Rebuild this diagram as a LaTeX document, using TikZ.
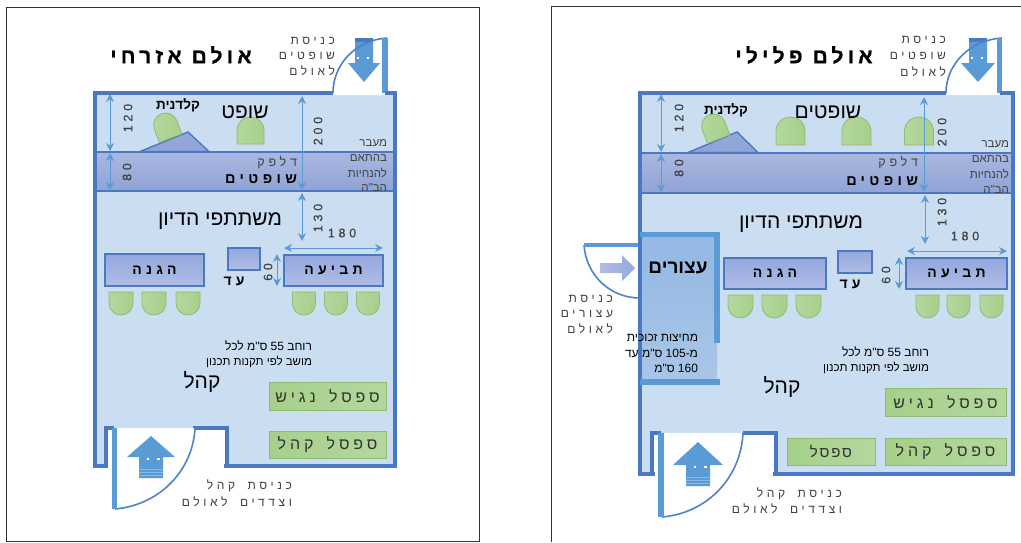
\documentclass[tikz,border=0pt]{standalone}
\usepackage{fontspec}
\usetikzlibrary{arrows.meta}
\TeXXeTstate=1
\newfontfamily\hefont[Script=Hebrew]{Liberation Sans}
\newfontfamily\hesp[Script=Hebrew,LetterSpace=30,WordSpace=1.8]{Liberation Sans}
\newfontfamily\hebench[Script=Hebrew,LetterSpace=24,WordSpace=1.6]{Liberation Sans}
\newfontfamily\hetight[Script=Hebrew,LetterSpace=12]{Liberation Sans}
\newfontfamily\hetitle[Script=Hebrew,LetterSpace=20,UprightFont={* Bold},FakeBold=0.7]{Liberation Sans}
\newfontfamily\hedim[Script=Hebrew,LetterSpace=30,FakeBold=0.25]{Liberation Sans}
\newcommand\HE[1]{\beginR#1\endR}
\newcommand\NUM[1]{\beginL#1\endL{}}
\definecolor{wall}{HTML}{4A78C2}
\definecolor{hallfill}{HTML}{CBDEF1}
\definecolor{door}{HTML}{5B9BD5}
\definecolor{bandtop}{HTML}{AAB8DF}
\definecolor{bandbot}{HTML}{8FA3D6}
\definecolor{boxtop}{HTML}{94A8DD}
\definecolor{boxbot}{HTML}{B0BDE6}
\definecolor{grntop}{HTML}{B4D79E}
\definecolor{grnbot}{HTML}{A6D08A}
\definecolor{grnline}{HTML}{8DBB70}
\definecolor{txtgray}{HTML}{404040}
\definecolor{standtop}{HTML}{94B8E2}
\definecolor{standbot}{HTML}{A8C6E8}
\tikzset{
  every node/.style={inner sep=0pt,outer sep=0pt},
  wallline/.style={draw=wall,line width=3.4pt,miter limit=10},
  bar/.style={fill=door,draw=none},
  arcline/.style={draw=wall!70!door,line width=1.6pt},
  dimline/.style={draw=door,line width=0.9pt,{Stealth[length=8pt,width=8pt]}-{Stealth[length=8pt,width=8pt]}},
  seat/.style={left color=grntop,right color=grnbot,draw=grnline,line width=0.8pt},
  deskbox/.style={top color=boxtop,bottom color=boxbot,draw=wall,line width=1.8pt},
  bench/.style={left color=grnbot,right color=grntop,draw=grnline,line width=0.8pt},
  blockarrow/.style={fill=door,draw=none},
  spaced/.style={font={\hesp\fontsize{#1}{#1}\selectfont},text=txtgray},
  benchlabel/.style={font={\hebench\fontsize{#1}{#1}\selectfont},text=txtgray!80!black},
  spacedbold/.style={font={\hesp\bfseries\fontsize{#1}{#1}\selectfont},text=black},
  titlelabel/.style={font={\hetitle\fontsize{#1}{#1}\selectfont},text=black},
  plain/.style={font={\hefont\fontsize{#1}{#1}\selectfont},text=black},
  plainbold/.style={font={\hefont\bfseries\fontsize{#1}{#1}\selectfont},text=black},
  dimlabel/.style={font={\hedim\fontsize{12.5}{12.5}\selectfont},text=txtgray},
}
% seat with a flat top and a round bottom: centre x, top y, width, height
\newcommand\seatdown[4]{%
  \path[seat] ({#1-#3/2},#2) -- ({#1+#3/2},#2) -- ({#1+#3/2},{#2+#4-#3/2})
   .. controls ({#1+#3/2},{#2+#4-0.22*#3}) and ({#1+0.28*#3},{#2+#4}) .. (#1,{#2+#4})
   .. controls ({#1-0.28*#3},{#2+#4}) and ({#1-#3/2},{#2+#4-0.22*#3}) .. ({#1-#3/2},{#2+#4-#3/2}) -- cycle;}
% seat with a flat bottom and a round top: centre x, bottom y, width, height
\newcommand\seatup[4]{%
  \path[seat] ({#1-#3/2},#2) -- ({#1+#3/2},#2) -- ({#1+#3/2},{#2-#4+#3/2})
   .. controls ({#1+#3/2},{#2-#4+0.22*#3}) and ({#1+0.28*#3},{#2-#4}) .. (#1,{#2-#4})
   .. controls ({#1-0.28*#3},{#2-#4}) and ({#1-#3/2},{#2-#4+0.22*#3}) .. ({#1-#3/2},{#2-#4+#3/2}) -- cycle;}
% dimension arrow between two named coordinates
\newcommand\dimarrow[3]{%
  \coordinate (#1a) at (#2); \coordinate (#1b) at (#3);
  \draw[dimline] (#1a) -- (#1b);}
% block arrow pointing down: centre x, top y, tip y, head start y, half shaft, half head
\newcommand\arrowdown[6]{%
  \path[blockarrow] ({#1-#5},#2) -- ({#1+#5},#2) -- ({#1+#5},#4) -- ({#1+#6},#4) -- (#1,#3) -- ({#1-#6},#4) -- ({#1-#5},#4) -- cycle;
  \path[fill=wall] ({#1-#5},#2) rectangle ({#1+#5},{#2+4});
  \path[fill=white] ({#1-7},{#4-6}) rectangle ({#1-5},{#4-4});
  \path[fill=white] ({#1+3},{#4-6}) rectangle ({#1+5},{#4-4});}
% block arrow pointing up: centre x, bottom y, tip y, head start y, half shaft, half head
\newcommand\arrowup[6]{%
  \path[blockarrow] ({#1-#5},#2) -- ({#1+#5},#2) -- ({#1+#5},#4) -- ({#1+#6},#4) -- (#1,#3) -- ({#1-#6},#4) -- ({#1-#5},#4) -- cycle;
  \foreach \k in {3,6,9}{\draw[white!30!door,line width=0.5pt] ({#1-#5},{#2-\k}) -- ({#1+#5},{#2-\k});}
  \path[fill=white] ({#1-4},{#4+1}) rectangle ({#1-2},{#4+3});
  \path[fill=white] ({#1+6},{#4+1}) rectangle ({#1+9},{#4+3});}
\begin{document}
\begin{tikzpicture}[x=1pt,y=-1pt]
\useasboundingbox (0,0) rectangle (1021,542);
% ---------------- frames
\draw[line width=1pt,draw=black!80] (6,7) rectangle (479,541);
\draw[line width=1pt,draw=black!80] (1021,6) -- (551,6) -- (551,542);

% ================= LEFT HALL
\path[fill=hallfill] (95,93) -- (395,93) -- (395,466) -- (227,466) -- (227,428) -- (106,428) -- (106,466) -- (95,466) -- cycle;
\path[top color=bandtop,bottom color=bandbot] (95,152) rectangle (395,191);
\draw[wall,line width=1.8pt] (95,152) -- (395,152);
\draw[wall,line width=2pt] (95,191) -- (395,191);
% door judges
\path[fill=white] (333,91) .. controls (333,64) and (356,40) .. (385,38) -- (385,95) -- (333,95) -- cycle;
\arrowdown{364}{38}{82}{63}{9}{16}
\draw[arcline] (333,93) .. controls (333,64) and (356,40) .. (387,38);
\path[bar] (382,38) rectangle (388,93);
% walls
\draw[wallline] (333,93) -- (95,93) -- (95,466) -- (108,466);
\draw[wallline] (106,466) -- (106,428) -- (114,428);
\draw[wallline] (193,428) -- (227,428) -- (227,466);
\draw[wallline] (224,466) -- (395,466) -- (395,93) -- (385,93);
% door public
\path[fill=white] (114,428) -- (195,428) .. controls (195,470) and (160,505) .. (115,509) -- cycle;
\draw[arcline] (195,428) .. controls (193,470) and (160,505) .. (115,509);
\path[bar] (112,428) rectangle (117,509);
\arrowup{151}{478}{436}{457}{12}{24}
% stenographer and seats
\path[top color=boxtop,bottom color=bandbot,draw=wall,line width=1.4pt] (140,151.5) -- (188,132) -- (209,151.5) -- cycle;
\begin{scope}[shift={(166,126)},rotate=21]
  \seatup{0}{13}{24}{26}
\end{scope}
\seatup{250.5}{144}{27}{27}
\foreach \x in {121,154,188}{\seatdown{\x}{292}{24}{23}}
\foreach \x in {304,336,368}{\seatdown{\x}{292}{23}{23}}
% dimension arrows
\dimarrow{la}{110,94}{110,151}
\dimarrow{lb}{110,153}{110,190}
\dimarrow{lc}{302,96}{302,190}
\dimarrow{ld}{302,193}{302,241}
\dimarrow{le}{284,248}{383,248}
\dimarrow{lf}{277,254}{277,286}
% boxes
\node[deskbox,minimum width=99pt,minimum height=31pt,anchor=north west,spacedbold=14] (lTv) at (284,255) {\HE{תביעה}};
\node[deskbox,minimum width=99pt,minimum height=32pt,anchor=north west,spacedbold=14] (lHg) at (105,254) {\HE{הגנה}};
\node[deskbox,minimum width=32pt,minimum height=22pt,anchor=north west] (lEd) at (228,248) {};
\node[spacedbold=14] (lEdT) at (234,281) {\HE{עד}};
\node[bench,minimum width=117pt,minimum height=28pt,anchor=north west,benchlabel=16] (lB1) at (269,382) {\HE{ספסל נגיש}};
\node[bench,minimum width=117pt,minimum height=27pt,anchor=north west,benchlabel=16] (lB2) at (269,431) {\HE{ספסל קהל}};
% labels
\node[titlelabel=21] (lTitle) at (181,55) {\HE{אולם אזרחי}};
\node[spaced=12,anchor=east] (lD1) at (335,41) {\HE{כניסת}};
\node[spaced=12,anchor=east] (lD2) at (335,56) {\HE{שופטים}};
\node[spaced=12,anchor=east] (lD3) at (335,71) {\HE{לאולם}};
\node[plainbold=13.5] (lSt) at (178,105) {\HE{קלדנית}};
\node[plain=21] (lJd) at (245,112) {\HE{שופט}};
\node[dimlabel,rotate=90] (lN120) at (128,118) {120};
\node[dimlabel,rotate=90] (lN200) at (318,131) {200};
\node[dimlabel,rotate=90] (lN80) at (127,172) {80};
\node[dimlabel,rotate=90] (lN130) at (318,218) {130};
\node[dimlabel] (lN180) at (342,233) {180};
\node[dimlabel,rotate=90] (lN60) at (268,272) {60};
\node[spaced=12.5,anchor=east] (lCt) at (297,163) {\HE{דלפק}};
\node[spacedbold=14.5,anchor=east] (lCj) at (297,179) {\HE{שופטים}};
\node[plain=11.5,anchor=east,text=txtgray] (lP1) at (387,143) {\HE{מעבר}};
\node[plain=11.5,anchor=east,text=txtgray] (lP2) at (387,158) {\HE{בהתאם}};
\node[plain=11.5,anchor=east,text=txtgray] (lP3) at (387,173) {\HE{להנחיות}};
\node[plain=11.5,anchor=east,text=txtgray] (lP4) at (387,188) {\HE{הב"ה}};
\node[plain=21] (lPart) at (220,221) {\HE{משתתפי הדיון}};
\node[plain=12,anchor=east] (lW1) at (312,346) {\HE{רוחב \NUM{55} ס"מ לכל}};
\node[plain=11.5,anchor=east] (lW2) at (312,362) {\HE{מושב לפי תקנות תכנון}};
\node[plain=21] (lPub) at (202,382) {\HE{קהל}};
\node[spaced=12,anchor=east] (lE1) at (292,486) {\HE{כניסת קהל}};
\node[spaced=12,anchor=east] (lE2) at (292,502) {\HE{וצדדים לאולם}};

% ================= RIGHT HALL
\path[fill=hallfill] (640,93) -- (1013,93) -- (1013,474) -- (776,474) -- (776,433) -- (652,433) -- (652,474) -- (640,474) -- cycle;
\path[top color=bandtop,bottom color=bandbot] (640,153) rectangle (1013,193);
\draw[wall,line width=1.8pt] (640,153) -- (1013,153);
\draw[wall,line width=2pt] (640,193) -- (1013,193);
% door judges
\path[fill=white] (946,91) .. controls (946,64) and (970,40) .. (1000,38) -- (1000,95) -- (946,95) -- cycle;
\arrowdown{978}{38}{82}{63}{9}{17}
\draw[arcline] (946,93) .. controls (946,64) and (970,40) .. (1002,38);
\path[bar] (997,38) rectangle (1002,93);
% witness door
\path[fill=white] (584,245) -- (640,245) -- (640,298) .. controls (610,298) and (586,275) .. (584,245) -- cycle;
\draw[arcline] (640,298) .. controls (610,298) and (586,275) .. (584,245);
\path[bar] (584,243) rectangle (640,247);
\path[left color=boxbot,right color=boxtop] (600,263) -- (622,263) -- (622,255) -- (635,268) -- (622,281) -- (622,273) -- (600,273) -- cycle;
% witness stand
\path[top color=standtop,bottom color=standbot] (641,233) rectangle (717,383);
% walls
\draw[wallline] (946,93) -- (640,93) -- (640,474) -- (655,474);
\draw[wallline] (652,474) -- (652,433) -- (661,433);
\draw[wallline] (743,433) -- (776,433) -- (776,474);
\draw[wallline] (773,474) -- (1013,474) -- (1013,93) -- (1000,93);
\path[bar] (640,232) rectangle (720,237);
\path[bar] (714,237) rectangle (720,343);
\path[bar] (640,379) rectangle (720,385);
% door public
\path[fill=white] (661,433) -- (743,433) .. controls (741,477) and (708,513) .. (662,517) -- cycle;
\draw[arcline] (743,433) .. controls (741,477) and (708,513) .. (662,517);
\path[bar] (658,433) rectangle (664,517);
\arrowup{698}{486}{442}{465}{12}{25}
% stenographer and seats
\path[top color=boxtop,bottom color=bandbot,draw=wall,line width=1.4pt] (688,152.5) -- (737,132) -- (758,152.5) -- cycle;
\begin{scope}[shift={(714,127)},rotate=21]
  \seatup{0}{13}{24}{26}
\end{scope}
\foreach \x in {790.5,856.5,919}{\seatup{\x}{145}{29}{28}}
\foreach \x in {740.5,774.5,808.5}{\seatdown{\x}{295}{25}{23}}
\foreach \x in {927.5,958.5,991.5}{\seatdown{\x}{295}{23}{23}}
% dimension arrows
\dimarrow{ra}{661,94}{661,152}
\dimarrow{rb}{661,154}{661,192}
\dimarrow{rc}{924,97}{924,192}
\dimarrow{rd}{925,195}{925,244}
\dimarrow{re}{907,251}{1007,251}
\dimarrow{rf}{899,257}{899,289}
% boxes
\node[deskbox,minimum width=101pt,minimum height=31pt,anchor=north west,spacedbold=14] (rTv) at (906,258) {\HE{תביעה}};
\node[deskbox,minimum width=102pt,minimum height=31pt,anchor=north west,spacedbold=14] (rHg) at (724,258) {\HE{הגנה}};
\node[deskbox,minimum width=34pt,minimum height=22pt,anchor=north west] (rEd) at (838,251) {};
\node[spacedbold=14] (rEdT) at (850,284) {\HE{עד}};
\node[bench,minimum width=121pt,minimum height=28pt,anchor=north west,benchlabel=16] (rB1) at (885,388) {\HE{ספסל נגיש}};
\node[bench,minimum width=121pt,minimum height=27pt,anchor=north west,benchlabel=16] (rB2) at (885,438) {\HE{ספסל קהל}};
\node[bench,minimum width=88pt,minimum height=27pt,anchor=north west,font={\hetight\fontsize{15}{15}\selectfont},text=txtgray!80!black] (rB3) at (787,438) {\HE{ספסל}};
% labels
\node[titlelabel=21] (rTitle) at (804,55) {\HE{אולם פלילי}};
\node[spaced=12,anchor=east] (rD1) at (946,40) {\HE{כניסת}};
\node[spaced=12,anchor=east] (rD2) at (946,56) {\HE{שופטים}};
\node[spaced=12,anchor=east] (rD3) at (946,72) {\HE{לאולם}};
\node[plainbold=13.5] (rSt) at (726,110) {\HE{קלדנית}};
\node[plain=21] (rJd) at (828,112) {\HE{שופטים}};
\node[dimlabel,rotate=90] (rN120) at (679,118) {120};
\node[dimlabel,rotate=90] (rN200) at (942,132) {200};
\node[dimlabel,rotate=90] (rN80) at (679,168) {80};
\node[dimlabel,rotate=90] (rN130) at (942,212) {130};
\node[dimlabel] (rN180) at (965,236) {180};
\node[dimlabel,rotate=90] (rN60) at (886,275) {60};
\node[spaced=12.5,anchor=east] (rCt) at (918,163) {\HE{דלפק}};
\node[spacedbold=14.5,anchor=east] (rCj) at (918,181) {\HE{שופטים}};
\node[plain=11.5,anchor=east,text=txtgray] (rP1) at (1009,144) {\HE{מעבר}};
\node[plain=11.5,anchor=east,text=txtgray] (rP2) at (1009,159) {\HE{בהתאם}};
\node[plain=11.5,anchor=east,text=txtgray] (rP3) at (1009,174) {\HE{להנחיות}};
\node[plain=11.5,anchor=east,text=txtgray] (rP4) at (1009,190) {\HE{הב"ה}};
\node[plain=21] (rPart) at (801,224) {\HE{משתתפי הדיון}};
\node[plain=12,anchor=east] (rW1) at (929,352) {\HE{רוחב \NUM{55} ס"מ לכל}};
\node[plain=11.5,anchor=east] (rW2) at (929,368) {\HE{מושב לפי תקנות תכנון}};
\node[plain=21] (rPub) at (782,387) {\HE{קהל}};
\node[spaced=12,anchor=east] (rE1) at (842,494) {\HE{כניסת קהל}};
\node[spaced=12,anchor=east] (rE2) at (842,509) {\HE{וצדדים לאולם}};
\node[plainbold=19] (rDet) at (678,268) {\HE{עצורים}};
\node[plain=12,anchor=east] (rG1) at (698,338) {\HE{מחיצות זכוכית}};
\node[plain=12,anchor=east] (rG2) at (698,353) {\HE{מ-\NUM{105} ס"מ עד}};
\node[plain=12,anchor=east] (rG3) at (698,368) {\HE{\NUM{160} ס"מ}};
\node[spaced=12,anchor=east] (rK1) at (613,299) {\HE{כניסת}};
\node[spaced=12,anchor=east] (rK2) at (613,314) {\HE{עצורים}};
\node[spaced=12,anchor=east] (rK3) at (613,329) {\HE{לאולם}};
\end{tikzpicture}
\end{document}
